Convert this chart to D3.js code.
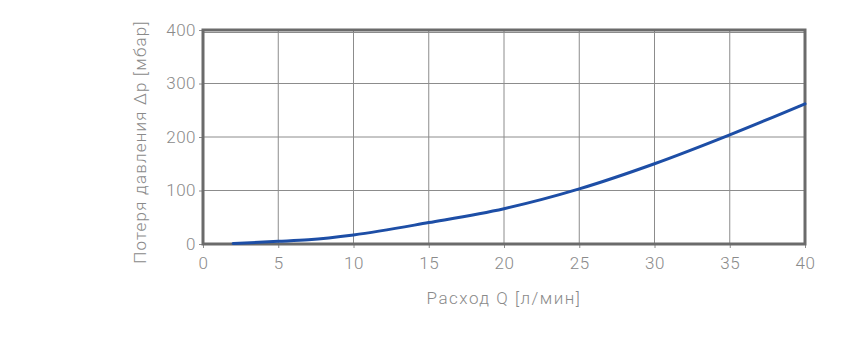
<!DOCTYPE html>
<html>
<head>
<meta charset="utf-8">
<script src="https://cdn.jsdelivr.net/npm/d3@7"></script>
<style>
  body { margin: 0; background: #fff; }
  .tick text { font-family: Roboto, "Noto Sans", sans-serif; font-size: 17px; fill: #8a8a8a; font-weight: 300; letter-spacing: 0.5px; }
  .axis-label { font-family: Roboto, "Noto Sans", sans-serif; font-size: 17px; fill: #8a8a8a; font-weight: 300; }
</style>
</head>
<body>
<div id="chart"></div>
<script>
// flow Q [l/min] and pressure drop [mbar]
const flow = [2, 5, 7, 10, 15, 20, 25, 30, 35, 40];
const dropMbar = [1, 5, 8, 17, 40, 66, 103, 150, 204, 262];
const xTicks = [0, 5, 10, 15, 20, 25, 30, 35, 40];
const yTicks = [0, 100, 200, 300, 400];

const config = {
  width: 845, height: 352,
  margin: {top: 30, right: 40, bottom: 108, left: 203}
};

const w = config.width - config.margin.left - config.margin.right;
const h = config.height - config.margin.top - config.margin.bottom;

const svg = d3.select('#chart').append('svg')
    .attr('width', config.width)
    .attr('height', config.height);

const chart = svg.append('g')
    .attr('transform', `translate(${config.margin.left},${config.margin.top})`);

const xScale = d3.scaleLinear().domain([0, 40]).range([0, w]);
const yScale = d3.scaleLinear().domain([0, 400]).range([h, 0]);

// grid
chart.append('g')
    .selectAll('line')
    .data(xTicks)
    .join('line')
    .attr('x1', d => xScale(d)).attr('x2', d => xScale(d))
    .attr('y1', 0).attr('y2', h)
    .attr('stroke', '#8c8c8c').attr('stroke-width', 1);

chart.append('g')
    .selectAll('line')
    .data(yTicks)
    .join('line')
    .attr('x1', 0).attr('x2', w)
    .attr('y1', d => yScale(d)).attr('y2', d => yScale(d))
    .attr('stroke', '#8c8c8c').attr('stroke-width', 1);

// thin inner line under top frame
chart.append('line')
    .attr('x1', 0).attr('x2', w)
    .attr('y1', 2.5).attr('y2', 2.5)
    .attr('stroke', '#8c8c8c').attr('stroke-width', 1);

// axes
const xAxis = d3.axisBottom(xScale).tickValues(xTicks).tickSize(4).tickPadding(9);
const yAxis = d3.axisLeft(yScale).tickValues(yTicks).tickSize(4).tickPadding(3);

const xAxisG = chart.append('g')
    .attr('transform', `translate(0,${h})`)
    .call(xAxis);
const yAxisG = chart.append('g').call(yAxis);

[xAxisG, yAxisG].forEach(g => {
  g.select('.domain').remove();
  g.selectAll('.tick line').attr('stroke', '#8c8c8c');
});

// frame
chart.append('rect')
    .attr('x', 0).attr('y', 0)
    .attr('width', w).attr('height', h)
    .attr('fill', 'none')
    .attr('stroke', '#6b6b6b')
    .attr('stroke-width', 3);

// curve
const line = d3.line()
    .x((d, i) => xScale(flow[i]))
    .y(d => yScale(d))
    .curve(d3.curveMonotoneX);

chart.append('path')
    .datum(dropMbar)
    .attr('d', line)
    .attr('fill', 'none')
    .attr('stroke', '#1d4ea6')
    .attr('stroke-width', 3)
    .attr('stroke-linecap', 'round');

// axis labels
chart.append('text')
    .attr('class', 'axis-label')
    .attr('x', w / 2)
    .attr('y', h + 60)
    .attr('text-anchor', 'middle')
    .style('letter-spacing', '1.5px')
    .text('Расход Q [л/мин]');

chart.append('text')
    .attr('class', 'axis-label')
    .attr('transform', 'rotate(-90)')
    .attr('x', -112)
    .attr('y', -57)
    .attr('text-anchor', 'middle')
    .style('letter-spacing', '1.2px')
    .text('Потеря давления Δp [мбар]');
</script>
</body>
</html>
